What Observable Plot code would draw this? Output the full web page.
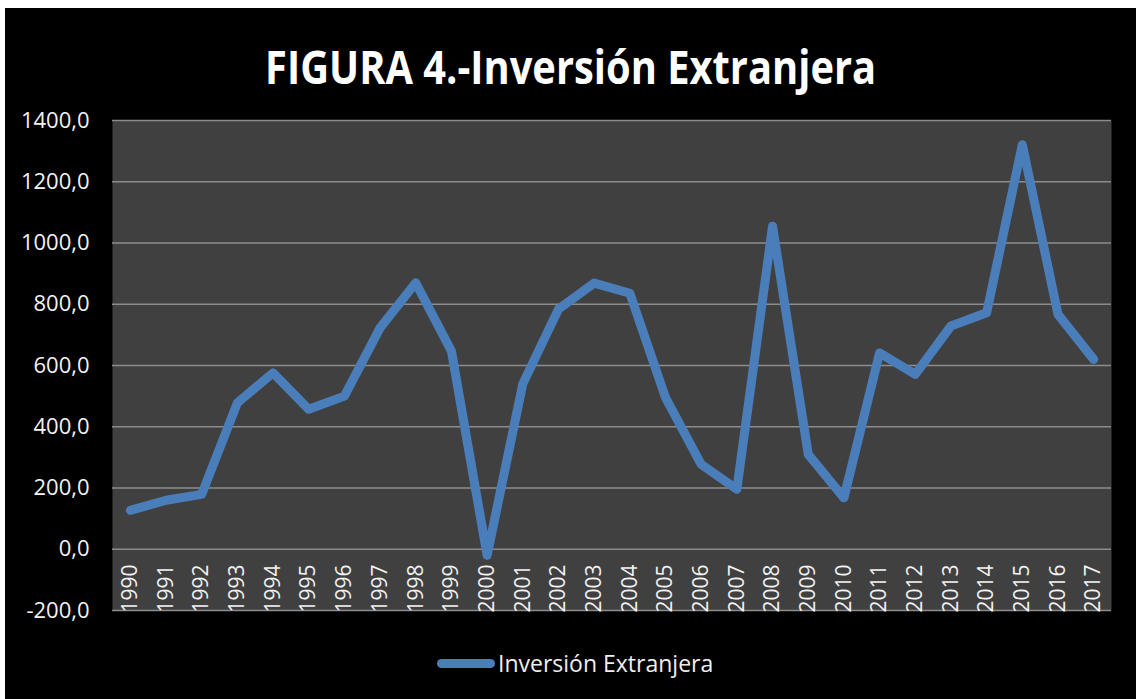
<!DOCTYPE html>
<html>
<head>
<meta charset="utf-8">
<script src="https://cdn.jsdelivr.net/npm/d3@7"></script>
<script src="https://cdn.jsdelivr.net/npm/@observablehq/plot@0.6"></script>
<style>
  html, body { margin: 0; padding: 0; background: #ffffff; }
  #chart { position: absolute; left: 5px; top: 8px; width: 1131px; height: 691px; background: #000000; overflow: hidden; font-family: "Open Sans", sans-serif; }
  #title { position: absolute; left: 0; top: 27px; width: 100%; text-align: center; line-height: 1; }
  #title span { display: inline-block; color: #ffffff; font: 700 46px "Open Sans", sans-serif; transform-origin: center; white-space: nowrap; }
  #plot { position: absolute; left: 0; top: 92px; }
  #legend { position: absolute; left: 432px; top: 640px; height: 30px; display: flex; align-items: center; color: #eeeeee; font-size: 23px; white-space: nowrap; }
  #legend .swatch { display: inline-block; width: 58px; height: 9px; border-radius: 5px; background: #4a7ebb; margin-right: 3px; }
</style>
</head>
<body>
<div id="chart">
  <div id="title"><span id="titleText"></span></div>
  <div id="plot"></div>
  <div id="legend"><span class="swatch"></span><span id="legendText"></span></div>
</div>
<script>
const titleText = "FIGURA 4.-Inversión Extranjera";
const seriesName = "Inversión Extranjera";
const years = [1990, 1991, 1992, 1993, 1994, 1995, 1996, 1997, 1998, 1999,
               2000, 2001, 2002, 2003, 2004, 2005, 2006, 2007, 2008, 2009,
               2010, 2011, 2012, 2013, 2014, 2015, 2016, 2017];
const values = [127, 160, 179, 478, 576, 457, 500, 723, 870, 647,
                -20, 540, 784, 869, 836, 495, 277, 196, 1055, 310,
                168, 641, 571, 729, 772, 1321, 767, 620];
const yTicks = [-200, 0, 200, 400, 600, 800, 1000, 1200, 1400];

const data = years.map((year, i) => ({year, value: values[i]}));

// title, squeezed to the reference width
const tEl = document.getElementById("titleText");
tEl.textContent = titleText;
const ctx = document.createElement("canvas").getContext("2d");
ctx.font = '700 46px "Open Sans"';
const w = ctx.measureText(titleText).width;
tEl.style.transform = `scaleX(${611 / w})`;

document.getElementById("legendText").textContent = seriesName;

const chart = Plot.plot({
  width: 1131,
  height: 530,
  marginTop: 20,
  marginBottom: 20,
  marginLeft: 107,
  marginRight: 25,
  style: {background: "transparent", color: "#f2f2f2", fontFamily: "'Open Sans', sans-serif", fontSize: "20px", overflow: "visible"},
  x: {type: "point", domain: years, padding: 0.5, round: false, label: null},
  y: {domain: [-200, 1400], label: null},
  marks: [
    Plot.frame({fill: "#404040", stroke: null}),
    Plot.ruleY(yTicks, {stroke: "#8c8c8c", strokeWidth: 1.5}),
    Plot.axisY(yTicks, {tickSize: 0, tickPadding: 23, tickFormat: d => d.toFixed(1).replace(".", ","), fill: "#f2f2f2", fontSize: 22, label: null}),
    Plot.axisX(years, {tickSize: 0, tickRotate: -90, textAnchor: "start", tickPadding: 2, tickFormat: d => String(d), fill: "#f2f2f2", fontSize: 21, label: null}),
    Plot.line(data, {x: "year", y: "value", stroke: "#4a7ebb", strokeWidth: 9, strokeLinecap: "round", strokeLinejoin: "round"})
  ]
});
document.getElementById("plot").appendChild(chart);
</script>
</body>
</html>
